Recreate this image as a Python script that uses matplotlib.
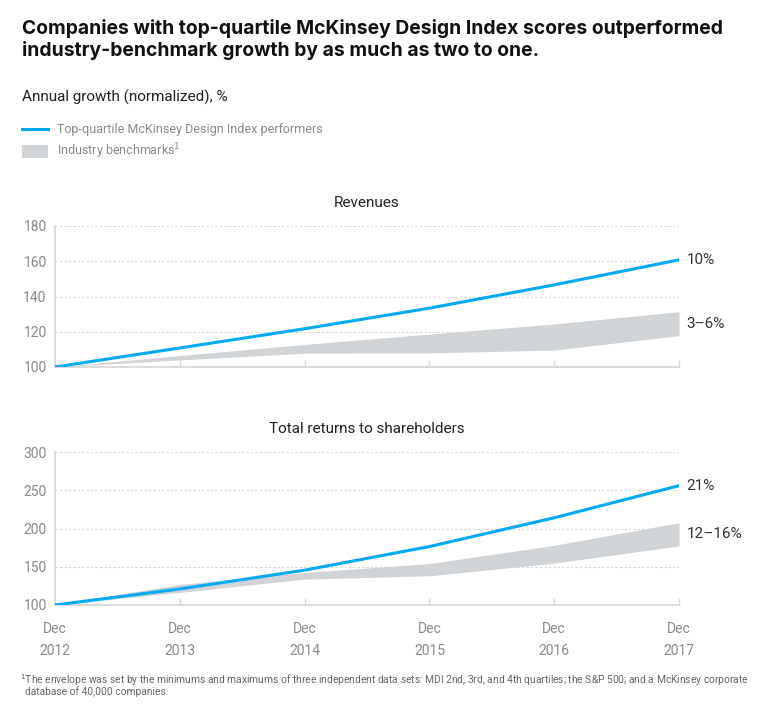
import matplotlib

matplotlib.use("Agg")
import matplotlib.pyplot as plt
from matplotlib.patches import Rectangle
from matplotlib.lines import Line2D

plt.rcParams["font.family"] = ["Roboto", "DejaVu Sans"]

years = [2012, 2013, 2014, 2015, 2016, 2017]
x_labels = [f"Dec\n{y}" for y in years]

rev_top = [100, 110.8, 121.7, 133.4, 146.6, 160.8]
rev_band_lo = [100, 104, 107.8, 108, 109.6, 117.8]
rev_band_hi = [100, 106.5, 112.8, 118.7, 124.4, 131.4]

trs_top = [100, 121, 145.5, 176.4, 214, 256]
trs_band_lo = [100, 116.5, 133.8, 138.2, 154.7, 177.2]
trs_band_hi = [100, 127, 142.5, 154.2, 178, 207.6]

BLUE = "#00A9F4"
BAND = "#D1D4D6"
DARK = "#222222"
GREY = "#8A8A8A"
SPINE = "#D8D8D8"

W, H = 775, 717
fig = plt.figure(figsize=(W / 100, H / 100), dpi=100)


def px_axes(x0, y0, x1, y1):
    return fig.add_axes([x0 / W, 1 - y1 / H, (x1 - x0) / W, (y1 - y0) / H])


def panel(ax, top, lo, hi, ylim, yticks, title, top_lab, band_lab, show_x):
    ax.fill_between(years, lo, hi, color=BAND, lw=0, zorder=1)
    ax.plot(years, top, color=BLUE, lw=2.2, zorder=3, solid_capstyle="round")
    ax.set_xlim(years[0], years[-1])
    ax.set_ylim(*ylim)
    ax.set_yticks(yticks)
    ax.set_yticklabels([str(t) for t in yticks], color=GREY, fontsize=10)
    for t in yticks[1:]:
        ax.axhline(t, color="#D5D5D5", lw=0.8, ls=(0, (2, 2)), zorder=2)
    ax.tick_params(axis="y", length=0, pad=6)
    ax.set_xticks(years)
    ax.tick_params(axis="x", direction="in", length=5, color=SPINE, width=1.0)
    if show_x:
        ax.set_xticklabels(x_labels, color=GREY, fontsize=10, linespacing=1.75)
        ax.tick_params(axis="x", pad=12)
    else:
        ax.set_xticklabels([])
    for s in ["top", "right"]:
        ax.spines[s].set_visible(False)
    for s in ["left", "bottom"]:
        ax.spines[s].set_color(SPINE)
        ax.spines[s].set_linewidth(1.3)
    ax.set_title(title, fontsize=11, color=DARK, pad=14)
    ax.text(1.012, top[-1], top_lab, transform=ax.get_yaxis_transform(),
            fontsize=11, color="#333333", va="center", ha="left")
    ax.text(1.012, (lo[-1] + hi[-1]) / 2, band_lab,
            transform=ax.get_yaxis_transform(), fontsize=11, color="#333333",
            va="center", ha="left")


ax1 = px_axes(55, 226, 679, 367)
panel(ax1, rev_top, rev_band_lo, rev_band_hi, (100, 180), [100, 120, 140, 160, 180],
      "Revenues", "10%", "3–6%", False)

ax2 = px_axes(55, 452, 679, 605)
panel(ax2, trs_top, trs_band_lo, trs_band_hi, (100, 300), [100, 150, 200, 250, 300],
      "Total returns to shareholders", "21%", "12–16%", True)

# header
title_font = dict(fontsize=13.9, fontweight="bold", color="#111111", va="center",
                  family=["Inter", "DejaVu Sans"])
fig.text(22 / W, 1 - 28 / H, "Companies with top-quartile McKinsey Design Index scores outperformed",
         **title_font)
fig.text(22 / W, 1 - 50 / H, "industry-benchmark growth by as much as two to one.", **title_font)
fig.text(22 / W, 1 - 97 / H, "Annual growth (normalized), %", fontsize=11, color=DARK, va="center")

fig.add_artist(Line2D([22 / W, 48 / W], [1 - 129 / H] * 2, color=BLUE, lw=2.2))
fig.text(57 / W, 1 - 129 / H, "Top-quartile McKinsey Design Index performers",
         fontsize=9, color=GREY, va="center")
fig.add_artist(Rectangle((22 / W, 1 - 158 / H), 26 / W, 13 / H, color=BAND,
                         transform=fig.transFigure, lw=0))
fig.text(57 / W, 1 - 151 / H, "Industry benchmarks$^{1}$", fontsize=9, color=GREY, va="center")

fig.text(20 / W, 1 - 680 / H,
         "$^{1}$The envelope was set by the minimums and maximums of three independent data sets: "
         "MDI 2nd, 3rd, and 4th quartiles; the S&P 500; and a McKinsey corporate",
         fontsize=7.35, color="#666666", va="center")
fig.text(25 / W, 1 - 692 / H, "database of 40,000 companies.", fontsize=7.35, color="#666666",
         va="center")

fig.savefig("out.png", dpi=100)
